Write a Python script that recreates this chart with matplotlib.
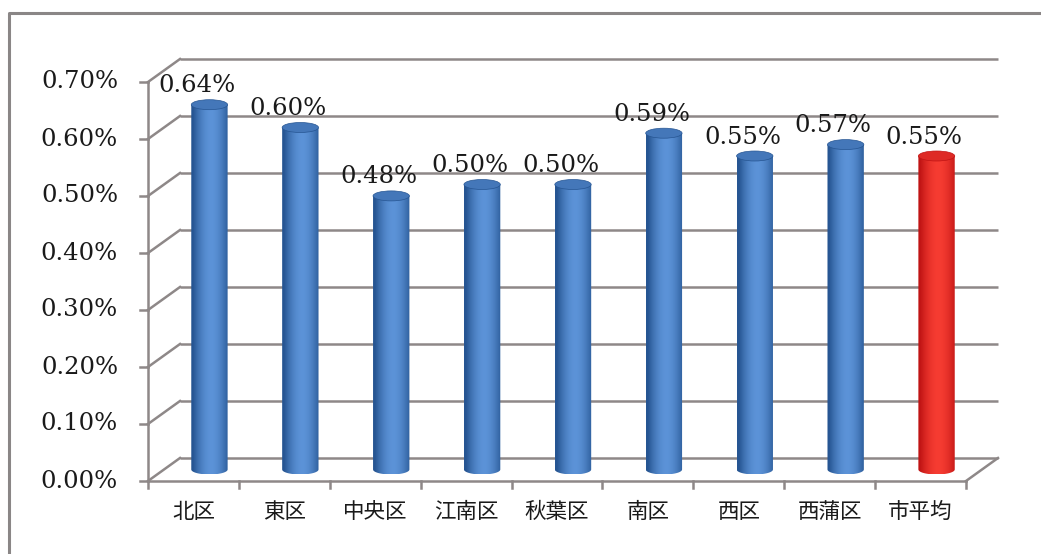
import numpy as np
import matplotlib.pyplot as plt
import matplotlib.transforms as mtransforms
from matplotlib.path import Path
from matplotlib.patches import PathPatch, Ellipse
from matplotlib.lines import Line2D

# 区別の値 (%)
districts = ['北区', '東区', '中央区', '江南区', '秋葉区', '南区', '西区', '西蒲区', '市平均']
rates = [0.64, 0.60, 0.48, 0.50, 0.50, 0.59, 0.55, 0.57, 0.55]
labels = ['0.64%', '0.60%', '0.48%', '0.50%', '0.50%', '0.59%', '0.55%', '0.57%', '0.55%']
yticks = [0.0, 0.1, 0.2, 0.3, 0.4, 0.5, 0.6, 0.7]
ytick_labels = ['0.00%', '0.10%', '0.20%', '0.30%', '0.40%', '0.50%', '0.60%', '0.70%']

W, H = 1041, 554
fig = plt.figure(figsize=(W / 100, H / 100), dpi=100)
fig.patch.set_facecolor('white')

# 前面の座標面
ax = fig.add_axes([148 / W, (H - 481) / H, (966 - 148) / W, (481 - 82) / H])
ax.set_xlim(-0.5, len(districts) - 0.5)
ax.set_ylim(0, 0.7)
ax.axis('off')

# 奥行き (px)
DX, DY = 32, 23
back = mtransforms.offset_copy(ax.transData, fig, x=DX, y=DY, units='dots')
mid = mtransforms.offset_copy(ax.transData, fig, x=DX / 2, y=DY / 2, units='dots')

grid_c = '#8e8888'
num_font = dict(family='DejaVu Serif', fontsize=17.5, color='#1a1a1a')
xl, xr = -0.5, len(districts) - 0.5

def fig_line(p0, p1, **kw):
    fig.add_artist(Line2D([p0[0] / W, p1[0] / W], [p0[1] / H, p1[1] / H],
                          transform=fig.transFigure, **kw))

# 外枠 (上と左のみ見える)
fig.add_artist(Line2D([9 / W, 9 / W, 1.0], [0.0, 1 - 13 / H, 1 - 13 / H],
                      transform=fig.transFigure, color='#8a8686', lw=2.2))

# 奥の壁の目盛線と左側の斜め線
ylab_tr = mtransforms.offset_copy(ax.transData, fig, x=-30, y=0, units='dots')
for v, lab in zip(yticks, ytick_labels):
    ax.plot([xl, xr], [v, v], transform=back, color=grid_c, lw=1.8, zorder=1,
            clip_on=False, solid_capstyle='butt')
    p0 = ax.transData.transform((xl, v))
    p1 = back.transform((xl, v))
    fig_line(p0, p1, color=grid_c, lw=1.8, zorder=1)
    fig_line((p0[0] - 8, p0[1]), p0, color=grid_c, lw=1.8, zorder=1)
    ax.text(xl, v, lab, transform=ylab_tr, ha='right', va='center', **num_font)

# 前面の縦軸・床
ax.plot([xl, xl], [0, 0.7], color=grid_c, lw=1.8, zorder=1, clip_on=False)
ax.plot([xl, xr], [0, 0], color=grid_c, lw=1.8, zorder=1, clip_on=False)
fig_line(ax.transData.transform((xr, 0)), back.transform((xr, 0)),
         color=grid_c, lw=1.8, zorder=1)
# 項目の区切り目盛
for k in range(len(districts) + 1):
    ax.plot([k - 0.5, k - 0.5], [0, -0.013], color=grid_c, lw=1.8, clip_on=False, zorder=1)

# 円柱
bw = 0.4
eh = 10 / 570  # 楕円の高さ (データ単位)
blue_edge = np.array([0x26, 0x55, 0x92]) / 255
blue_mid = np.array([0x5c, 0x93, 0xd8]) / 255
red_edge = np.array([0xc0, 0x14, 0x14]) / 255
red_mid = np.array([0xf6, 0x3c, 0x32]) / 255

xs = np.linspace(-1, 1, 64)
shade = np.clip(1 - np.abs(xs - 0.1) ** 1.8, 0, 1)

lab_tr = mtransforms.offset_copy(ax.transData, fig, x=0, y=19, units='dots')
for i, v in enumerate(rates):
    edge, midc = (red_edge, red_mid) if i == len(rates) - 1 else (blue_edge, blue_mid)
    grad = edge[None, :] + (midc - edge)[None, :] * shade[:, None]
    img = np.repeat(grad[None, :, :], 2, axis=0)
    x0, x1 = i - bw / 2, i + bw / 2
    im = ax.imshow(img, extent=[x0, x1, -eh / 2, v], transform=mid,
                   aspect='auto', interpolation='bilinear', zorder=3)
    # 外形: 下側の半楕円 + 側面
    th = np.linspace(np.pi, 2 * np.pi, 40)
    verts = list(zip(i + bw / 2 * np.cos(th), eh / 2 * np.sin(th))) + [(x1, v), (x0, v), (x0, 0)]
    clip = PathPatch(Path(verts), transform=mid, facecolor='none', edgecolor='none')
    ax.add_patch(clip)
    im.set_clip_path(clip)
    top = Ellipse((i, v), bw, eh, transform=mid, facecolor=edge * 0.45 + midc * 0.55,
                  edgecolor=edge, lw=0.5, zorder=4)
    ax.add_patch(top)
    ax.text(i + 0.04, v, labels[i], transform=lab_tr, ha='center', va='bottom',
            zorder=6, **num_font)

ax.set_xlim(-0.5, len(districts) - 0.5)
ax.set_ylim(0, 0.7)

# 項目名
name_tr = mtransforms.offset_copy(ax.transData, fig, x=0, y=-31, units='dots')
for i, name in enumerate(districts):
    ax.text(i, 0, name, transform=name_tr, ha='center', va='center', fontsize=15.5,
            family=['Noto Sans CJK JP', 'DejaVu Sans'], color='#1a1a1a')

fig.savefig('out.png', dpi=100, facecolor='white')
